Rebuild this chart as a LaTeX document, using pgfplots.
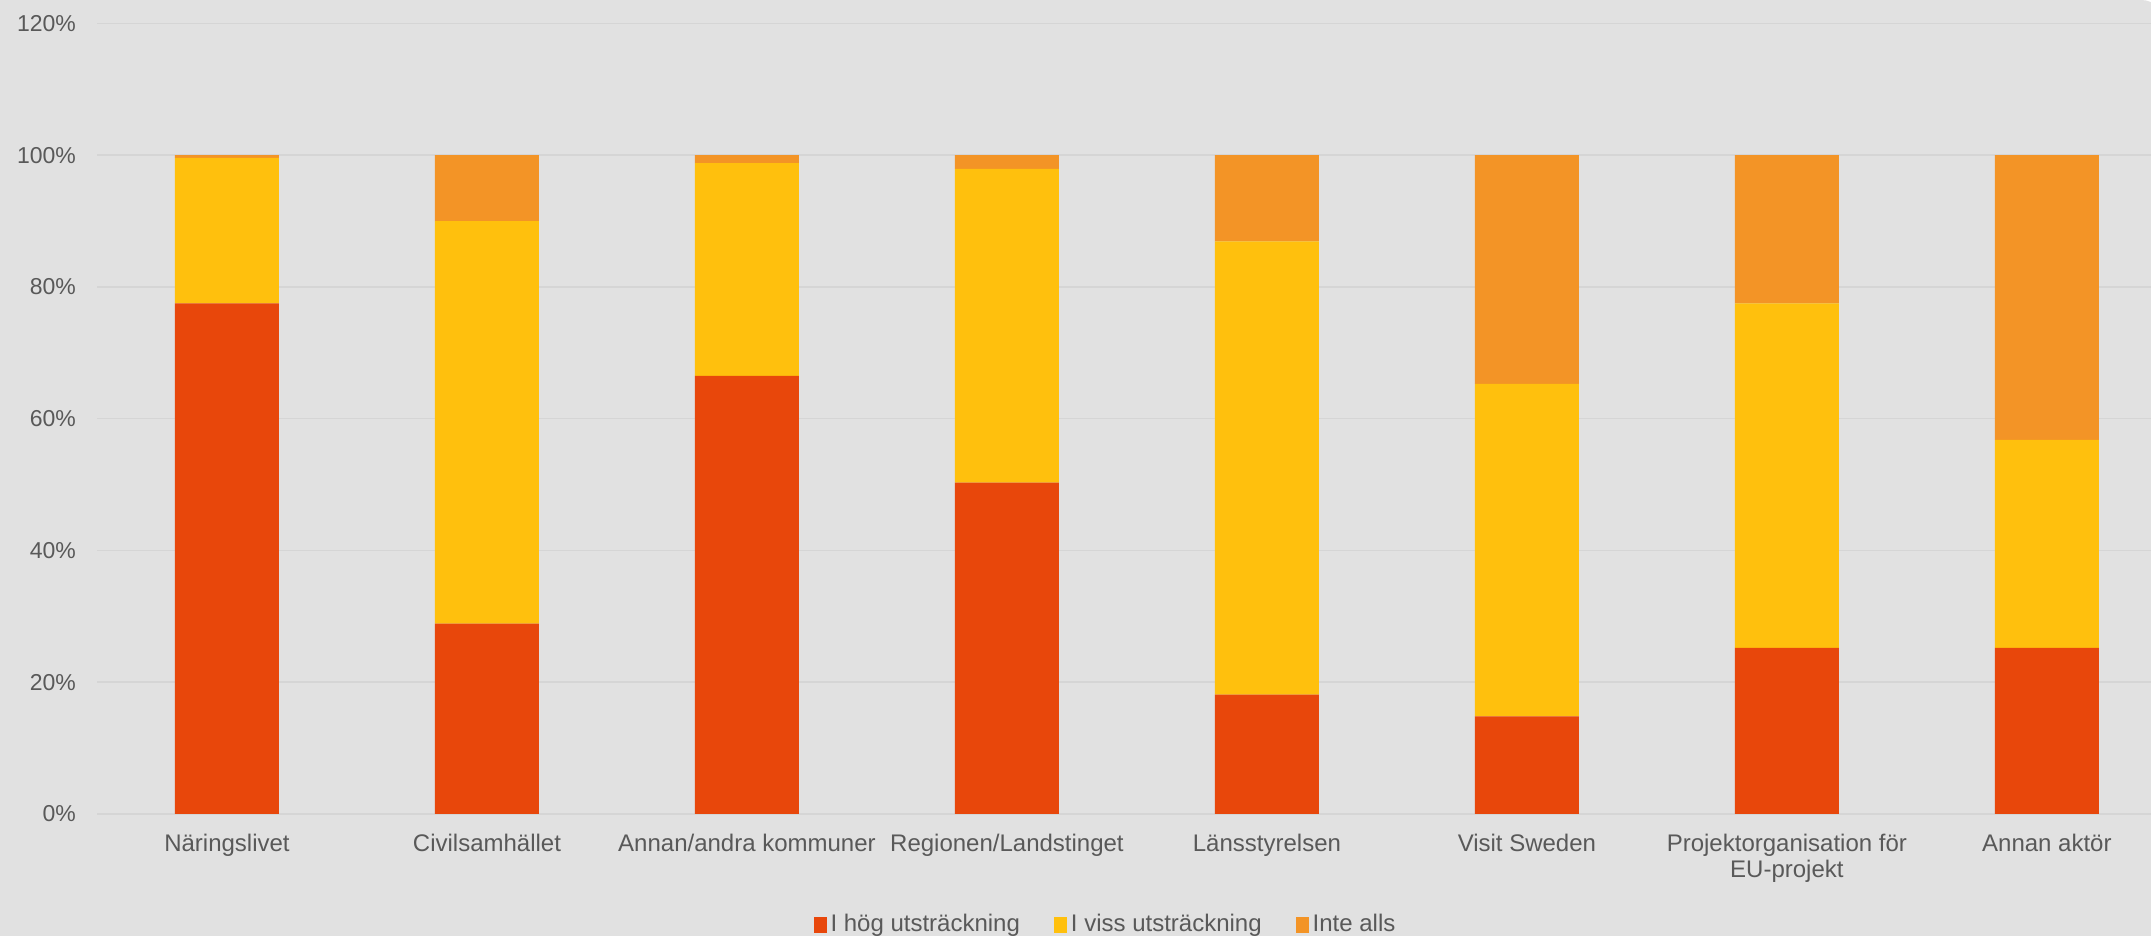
\documentclass[border=0pt]{standalone}
\usepackage{fontspec}
\setmainfont{Liberation Sans}
\usepackage{pgfplots}
\pgfplotsset{compat=1.18}
\definecolor{bg}{HTML}{E1E1E1}
\definecolor{gridc}{HTML}{D5D5D5}
\definecolor{txt}{HTML}{595959}
\definecolor{hog}{HTML}{E8470B}
\definecolor{viss}{HTML}{FFC00D}
\definecolor{inte}{HTML}{F39426}
\begin{document}
\begin{tikzpicture}[font=\fontsize{12}{13}\selectfont]
  \useasboundingbox (-48.5pt,-61pt) rectangle (1027pt,407pt);
  \fill[white] (-48.5pt,-61pt) rectangle (1027pt,407pt);
  \fill[bg] (-48.5pt,-61pt) -- (-48.5pt,407pt) [rounded corners=12pt]
    -- (1034pt,407pt) [sharp corners] -- (1034pt,-61pt) -- cycle;
\begin{axis}[
  at={(0pt,0pt)}, anchor=south west,
  scale only axis,
  width=1027pt, height=395.3pt,
  ybar stacked,
  bar width=52pt,
  xmin=-0.5, xmax=7.4,
  ymin=0, ymax=120,
  ytick={0,20,...,120},
  yticklabel={\pgfmathprintnumber{\tick}\%},
  /pgf/number format/assume math mode=true,
  xtick={0,...,7},
  xticklabels={Näringslivet, Civilsamhället, Annan/andra kommuner,
    Regionen/Landstinget, Länsstyrelsen, Visit Sweden,
    {Projektorganisation för\\EU-projekt}, Annan aktör},
  xticklabel style={align=center, yshift=-6.5pt, text=txt},
  yticklabel style={xshift=-7pt, text=txt, font=\fontsize{11.5}{13}\selectfont},
  major tick length=0pt,
  axis line style={draw=none},
  ymajorgrids,
  grid style={gridc, line width=0.75pt},
  legend columns=-1,
  legend style={draw=none, fill=none, text=txt,
    at={(0.4915,-0.140)}, anchor=center,
    /tikz/every even column/.append style={column sep=15pt}},
  legend image code/.code={\fill[#1] (0pt,-4pt) rectangle (6.5pt,4pt);},
]
\addplot[fill=hog, draw=none] coordinates {
  (0,77.5) (1,28.9) (2,66.5) (3,50.3) (4,18.1) (5,14.8) (6,25.2) (7,25.2)};
\addplot[fill=viss, draw=none] coordinates {
  (0,22.1) (1,61.1) (2,32.3) (3,47.6) (4,68.8) (5,50.5) (6,52.3) (7,31.6)};
\addplot[fill=inte, draw=none] coordinates {
  (0,0.4) (1,10.0) (2,1.2) (3,2.1) (4,13.1) (5,34.7) (6,22.5) (7,43.2)};
\legend{I hög utsträckning, I viss utsträckning, Inte alls}
\end{axis}
\end{tikzpicture}
\end{document}
